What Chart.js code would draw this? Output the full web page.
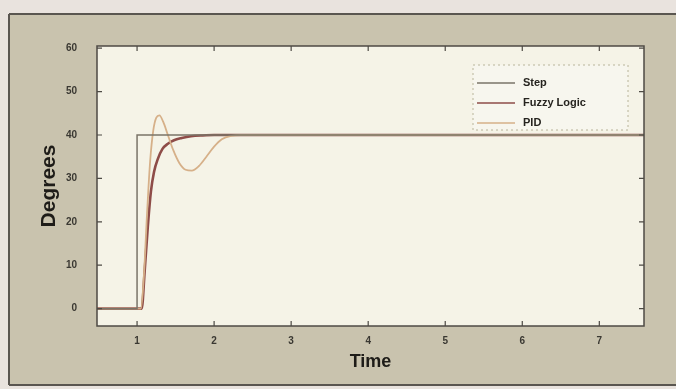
<!DOCTYPE html>
<html><head><meta charset="utf-8">
<script src="https://cdn.jsdelivr.net/npm/chart.js@4.4.1/dist/chart.umd.min.js"></script>
<style>html,body{margin:0;padding:0;background:#c8c2ad;}#c{display:block}</style>
</head><body>
<div style="width:676px;height:389px;position:relative"><canvas id="c" width="676" height="389"></canvas></div>
<script>
// ---- data ----
const xTicks = [1, 2, 3, 4, 5, 6, 7];
const yTicks = [0, 10, 20, 30, 40, 50, 60];
const seriesNames = ['Step', 'Fuzzy Logic', 'PID'];
const stepT = [0.48, 1.0, 1.0, 7.58];
const stepV = [0, 0, 40, 40];
const fuzzyT = [0.48, 1.0, 1.06, 1.10, 1.14, 1.18, 1.22, 1.27, 1.33, 1.40, 1.48, 1.58, 1.70, 1.85, 2.0, 7.58];
const fuzzyV = [0, 0, 0, 9, 19, 27, 31.5, 34.5, 36.8, 38, 38.8, 39.3, 39.7, 39.9, 40, 40];
const pidT = [0.48, 1.0, 1.05, 1.09, 1.13, 1.17, 1.21, 1.25, 1.29, 1.34, 1.40, 1.47, 1.55, 1.63, 1.71, 1.80, 1.90, 2.00, 2.10, 2.22, 2.35, 2.6, 7.58];
const pidV = [0, 0, 0, 8, 22, 34, 41, 44, 44.5, 43, 40, 36.5, 33.5, 32, 31.8, 32.8, 35, 37.3, 39, 39.8, 40, 40, 40];

const pts = (t, v) => t.map((x, i) => ({x: x, y: v[i]}));
const colors = {'Step': '#7a7468', 'Fuzzy Logic': '#8e4c48', 'PID': '#d6b089'};

const bgPlugin = {
  id: 'bg',
  beforeDraw(chart) {
    const c = chart.ctx, a = chart.chartArea;
    c.save();
    c.fillStyle = '#e9e3de'; c.fillRect(0, 0, 676, 389);
    c.fillStyle = '#c9c3ae'; c.fillRect(9, 14, 667, 371);
    c.strokeStyle = '#5a5650'; c.lineWidth = 2;
    c.beginPath(); c.moveTo(9, 14); c.lineTo(676, 14); c.moveTo(9, 14); c.lineTo(9, 385); c.moveTo(9, 385); c.lineTo(676, 385); c.stroke();
    c.fillStyle = '#f5f3e7'; c.fillRect(a.left, a.top, a.right - a.left, a.bottom - a.top);
    c.restore();
  },
  afterDraw(chart) {
    const c = chart.ctx, a = chart.chartArea;
    const xs = chart.scales.x, ys = chart.scales.y;
    c.save();
    c.strokeStyle = '#4d4a44'; c.lineWidth = 1.5;
    c.strokeRect(a.left, a.top, a.right - a.left, a.bottom - a.top);
    c.lineWidth = 1.2;
    c.beginPath();
    xTicks.forEach(v => { const px = xs.getPixelForValue(v);
      c.moveTo(px, a.bottom); c.lineTo(px, a.bottom - 5);
      c.moveTo(px, a.top); c.lineTo(px, a.top + 5); });
    yTicks.forEach(v => { const py = ys.getPixelForValue(v);
      c.moveTo(a.left, py); c.lineTo(a.left + 5, py);
      c.moveTo(a.right, py); c.lineTo(a.right - 5, py); });
    c.stroke();
    // legend (order as in the reference)
    const lx = 473, ly = 65, lw = 155, lh = 65;
    c.fillStyle = '#f7f6ee'; c.fillRect(lx, ly, lw, lh);
    c.setLineDash([2, 3]); c.strokeStyle = '#b8b49a'; c.lineWidth = 1;
    c.strokeRect(lx, ly, lw, lh); c.setLineDash([]);
    c.font = 'bold 11px "Liberation Sans", Arial, sans-serif';
    c.textBaseline = 'middle'; c.textAlign = 'left';
    seriesNames.forEach((name, i) => {
      const d = chart.data.datasets.find(ds => ds.label === name);
      const yy = 83 + i * 20;
      c.strokeStyle = d.borderColor; c.lineWidth = 1.5;
      c.beginPath(); c.moveTo(477, yy); c.lineTo(515, yy); c.stroke();
      c.fillStyle = '#26241f'; c.fillText(name, 523, yy);
    });
    c.restore();
  }
};

new Chart(document.getElementById('c'), {
  type: 'line',
  data: {
    datasets: [
      {label: 'Step', data: pts(stepT, stepV), borderColor: colors['Step'], borderWidth: 1.5, tension: 0, pointRadius: 0},
      {label: 'PID', data: pts(pidT, pidV), borderColor: colors['PID'], borderWidth: 1.8, cubicInterpolationMode: 'monotone', pointRadius: 0},
      {label: 'Fuzzy Logic', data: pts(fuzzyT, fuzzyV), borderColor: colors['Fuzzy Logic'], borderWidth: 2.6, cubicInterpolationMode: 'monotone', pointRadius: 0}
    ]
  },
  options: {
    responsive: false, animation: false, devicePixelRatio: 1,
    layout: {padding: {left: 0, right: 32, top: 46, bottom: 0}},
    plugins: {legend: {display: false}, tooltip: {enabled: false}},
    scales: {
      x: {
        type: 'linear', min: 0.48, max: 7.58,
        afterBuildTicks: s => { s.ticks = xTicks.map(v => ({value: v})); },
        afterFit: s => { s.height = 63; },
        grid: {display: false, drawTicks: false}, border: {display: false},
        ticks: {padding: 9, color: '#3a3832', font: {size: 10, weight: 'bold', family: '"Liberation Sans", Arial'}},
        title: {display: true, text: 'Time', color: '#1e1c18', font: {size: 18, weight: 'bold', family: '"Liberation Sans", Arial'}, padding: {top: 0, bottom: 16}}
      },
      y: {
        type: 'linear', min: -4, max: 60.5,
        afterBuildTicks: s => { s.ticks = yTicks.map(v => ({value: v})); },
        afterFit: s => { s.width = 97; },
        grid: {display: false, drawTicks: false}, border: {display: false},
        ticks: {padding: 20, color: '#3a3832', font: {size: 10, weight: 'bold', family: '"Liberation Sans", Arial'}},
        title: {display: true, text: 'Degrees', color: '#1e1c18', font: {size: 21, weight: 'bold', family: '"Liberation Sans", Arial'}, padding: {top: 37, bottom: 0}}
      }
    }
  },
  plugins: [bgPlugin]
});
</script>
</body></html>
